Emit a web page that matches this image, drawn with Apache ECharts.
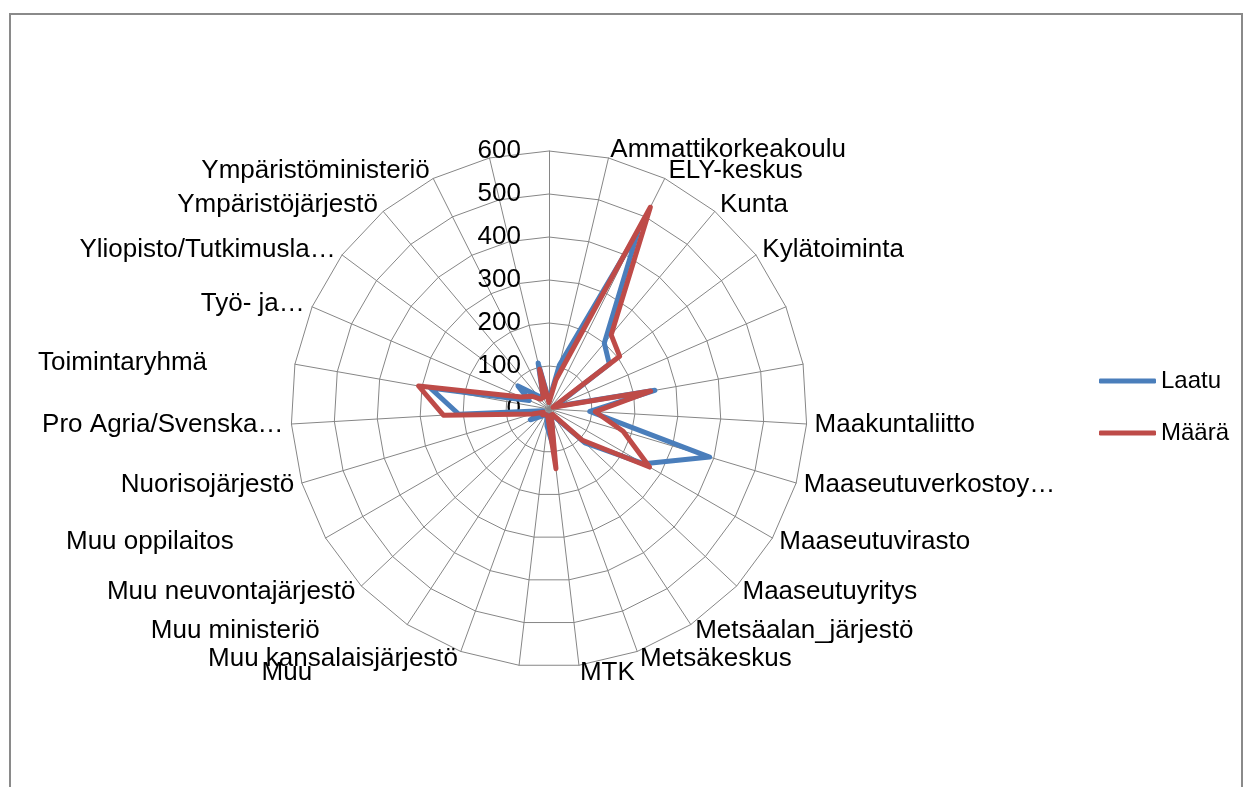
<!DOCTYPE html>
<html>
<head>
<meta charset="utf-8">
<script src="https://cdn.jsdelivr.net/npm/echarts@6/dist/echarts.min.js"></script>
<style>
html, body { margin: 0; padding: 0; background: #fff; }
#chart { width: 1245px; height: 787px; }
</style>
</head>
<body>
<div id="chart"></div>
<script>
// categories clockwise from the top spoke (some labels are hidden in the original)
var labels = ['', 'Ammattikorkeakoulu', 'ELY-keskus', 'Kunta', 'Kylätoiminta', '', '',
    'Maakuntaliitto', 'Maaseutuverkostoy…', 'Maaseutuvirasto', 'Maaseutuyritys',
    'Metsäalan_järjestö', 'Metsäkeskus', 'MTK', 'Muu', 'Muu kansalaisjärjestö',
    'Muu ministeriö', 'Muu neuvontajärjestö', 'Muu oppilaitos', 'Nuorisojärjestö',
    'Pro Agria/Svenska…', 'Toimintaryhmä', 'Työ- ja…', 'Yliopisto/Tutkimusla…',
    'Ympäristöjärjestö', 'Ympäristöministeriö', ''];
var laatu = [20, 105, 460, 200, 175, 15, 250, 95, 390, 255, 115, 20, 15, 90,
    40, 15, 15, 25, 50, 15, 210, 280, 50, 90, 40, 30, 110];
var maara = [15, 70, 525, 225, 205, 10, 240, 108, 180, 270, 105, 15, 15, 140,
    20, 15, 15, 20, 15, 40, 246, 308, 70, 50, 30, 30, 95];
var radialTicks = [0, 100, 200, 300, 400, 500, 600];

var font = 'Liberation Sans';
// extra right padding for a few labels that Excel pushed outward
var namePad = {'Toimintaryhmä': 80, 'Muu oppilaitos': 85, 'Muu ministeriö': 83, 'Muu': 206};

var chart = echarts.init(document.getElementById('chart'));

// echarts lays radar spokes counter-clockwise, so walk the list backwards
var order = [0];
for (var i = labels.length - 1; i >= 1; i--) order.push(i);

var indicators = order.map(function (i, k) {
    var ind = {name: labels[i], min: radialTicks[0], max: radialTicks[radialTicks.length - 1]};
    if (k === 0) ind.axisLabel = {show: true};
    return ind;
});

var rich = {};
Object.keys(namePad).forEach(function (n) {
    rich['p' + namePad[n]] = {padding: [0, namePad[n], 0, 0], fontSize: 26, fontFamily: font, color: '#000'};
});

option = {
    animation: false,
    graphic: [{
        type: 'rect',
        silent: true,
        shape: {x: 10, y: 14, width: 1232, height: 800},
        style: {fill: 'none', stroke: '#8a8a8a', lineWidth: 2}
    }],
    legend: {
        orient: 'vertical',
        left: 1094,
        top: 364,
        itemWidth: 57,
        itemHeight: 5,
        itemGap: 28,
        icon: 'roundRect',
        textStyle: {fontSize: 24, color: '#000', fontFamily: font},
        data: ['Laatu', 'Määrä']
    },
    radar: {
        center: [549, 409],
        radius: 258,
        startAngle: 90,
        shape: 'polygon',
        splitNumber: radialTicks.length - 1,
        nameGap: 8,
        indicator: indicators,
        axisName: {
            color: '#000',
            fontSize: 26,
            fontFamily: font,
            formatter: function (name) {
                if (namePad[name]) return '{p' + namePad[name] + '|' + name + '}';
                return name;
            },
            rich: rich
        },
        axisLine: {lineStyle: {color: '#868686', width: 1}},
        splitLine: {lineStyle: {color: '#868686', width: 1}},
        splitArea: {show: false},
        axisTick: {show: false},
        axisLabel: {show: false, color: '#000', fontSize: 26, fontFamily: font, margin: 28}
    },
    series: [{
        type: 'radar',
        symbol: 'none',
        data: [{
            name: 'Laatu',
            value: order.map(function (i) { return laatu[i]; }),
            itemStyle: {color: '#4a7ebb'},
            lineStyle: {color: '#4a7ebb', width: 5, join: 'round', cap: 'round'}
        }, {
            name: 'Määrä',
            value: order.map(function (i) { return maara[i]; }),
            itemStyle: {color: '#be4b48'},
            lineStyle: {color: '#be4b48', width: 5, join: 'round', cap: 'round'}
        }]
    }]
};
chart.setOption(option);
</script>
</body>
</html>
